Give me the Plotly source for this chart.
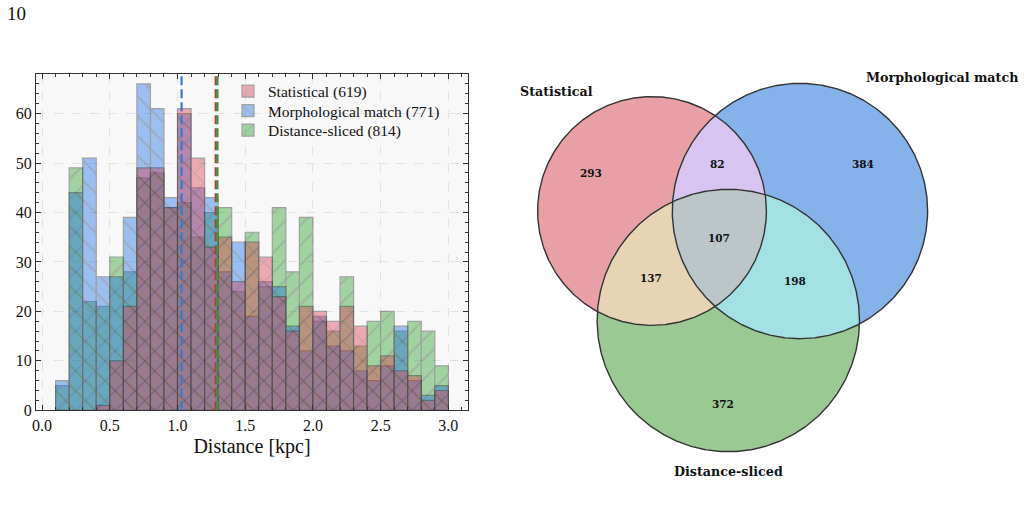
import numpy as np
import plotly.graph_objects as go

# ---------------- data ----------------
bin_left = [0.1, 0.2, 0.3, 0.4, 0.5, 0.6, 0.7, 0.8, 0.9, 1.0,
            1.1, 1.2, 1.3, 1.4, 1.5, 1.6, 1.7, 1.8, 1.9, 2.0,
            2.1, 2.2, 2.3, 2.4, 2.5, 2.6, 2.7, 2.8, 2.9]
bin_width = 0.1
statistical_counts = [0, 0, 0, 1, 10, 21, 49, 49, 41, 61,
                      51, 33, 35, 26, 34, 31, 23, 16, 21, 20,
                      18, 21, 17, 9, 11, 8, 7, 2, 4]
morph_counts = [6, 44, 51, 27, 27, 39, 66, 61, 43, 60,
                45, 43, 28, 34, 19, 26, 25, 17, 12, 19,
                13, 12, 8, 6, 9, 17, 6, 3, 5]
dist_counts = [5, 49, 22, 21, 31, 28, 47, 48, 41, 42,
               35, 40, 41, 24, 36, 25, 41, 28, 39, 18,
               16, 27, 13, 18, 20, 16, 18, 16, 9]
series_names = ["Statistical", "Morphological match", "Distance-sliced"]
median_kpc = [1.282, 1.03, 1.295]

venn_region_codes = ["100", "010", "001", "110", "101", "011", "111"]
venn_region_counts = [293, 384, 372, 82, 137, 198, 107]

# ---------------- style ----------------
bar_colors = ["#DC3C50", "#1E6EE6", "#28A028"]
line_colors = ["#C8323C", "#3A78D0", "#3C963C"]
patterns = ["x", "\\", "/"]
venn_colors = {"100": "#E8A0A6", "010": "#85B2E8", "001": "#9AC993",
               "110": "#D8C4F0", "101": "#E6D4B4", "011": "#A3E0E3",
               "111": "#BCC5C8"}
serif = "Liberation Serif"
vfont = "DejaVu Serif"
W, H = 1024, 528
legend_rows_px = [91.5, 111, 130.5]
legend_keys = ["legend", "legend2", "legend3"]

fig = go.Figure()

# ---------------- histogram ----------------
centers = [b + bin_width / 2 for b in bin_left]
counts = [statistical_counts, morph_counts, dist_counts]
draw_order = [2, 1, 0]
for i in draw_order:
    fig.add_trace(go.Bar(
        x=centers, y=counts[i], width=bin_width,
        name=f"{series_names[i]} ({sum(counts[i])})",
        legend=legend_keys[i],
        opacity=0.42,
        marker=dict(color=bar_colors[i],
                    line=dict(color="#2a2a2a", width=1.2),
                    pattern=dict(shape=patterns[i], fillmode="overlay",
                                 bgcolor=bar_colors[i], fgcolor="#1a1a1a",
                                 size=14, solidity=0.14)),
        xaxis="x", yaxis="y", hoverinfo="skip"))

shapes = [dict(type="rect", xref="x domain", yref="y domain", x0=0, x1=1, y0=0, y1=1,
               fillcolor="#f8f8f8", line=dict(width=0), layer="below")]
for idx in [1, 0, 2]:
    shapes.append(dict(type="line", xref="x", yref="y domain",
                       x0=median_kpc[idx], x1=median_kpc[idx], y0=0, y1=1,
                       line=dict(color=line_colors[idx], width=2.2, dash="9px,4px"),
                       layer="above"))

# ---------------- venn ----------------
totals = []
for k in range(3):
    totals.append(sum(c for code, c in zip(venn_region_codes, venn_region_counts)
                      if code[k] == "1"))
radii = [np.sqrt(t / np.pi) for t in totals]


def pair_overlap(a, b):
    return sum(c for code, c in zip(venn_region_codes, venn_region_counts)
               if code[a] == "1" and code[b] == "1")


def lens_area(r1, r2, d):
    if d >= r1 + r2:
        return 0.0
    if d <= abs(r1 - r2):
        return np.pi * min(r1, r2) ** 2
    a1 = r1 ** 2 * np.arccos((d * d + r1 * r1 - r2 * r2) / (2 * d * r1))
    a2 = r2 ** 2 * np.arccos((d * d + r2 * r2 - r1 * r1) / (2 * d * r2))
    a3 = 0.5 * np.sqrt((-d + r1 + r2) * (d + r1 - r2) * (d - r1 + r2) * (d + r1 + r2))
    return a1 + a2 - a3


def solve_d(r1, r2, area):
    lo, hi = abs(r1 - r2), r1 + r2
    for _ in range(200):
        mid = 0.5 * (lo + hi)
        if lens_area(r1, r2, mid) > area:
            lo = mid
        else:
            hi = mid
    return 0.5 * (lo + hi)


d01 = solve_d(radii[0], radii[1], pair_overlap(0, 1))
d02 = solve_d(radii[0], radii[2], pair_overlap(0, 2))
d12 = solve_d(radii[1], radii[2], pair_overlap(1, 2))
cx2 = (d02 ** 2 - d12 ** 2 + d01 ** 2) / (2 * d01)
cy2 = -np.sqrt(max(d02 ** 2 - cx2 ** 2, 0))
ccenters = [np.array([0.0, 0.0]), np.array([d01, 0.0]), np.array([cx2, cy2])]


def inside(p, k):
    return np.hypot(p[:, 0] - ccenters[k][0], p[:, 1] - ccenters[k][1]) < radii[k]


def region_polygon(code):
    N = 3600
    th = np.linspace(0, 2 * np.pi, N, endpoint=False)
    arcs = []
    outer_mid = None
    for k in range(3):
        pts = np.column_stack([ccenters[k][0] + radii[k] * np.cos(th),
                               ccenters[k][1] + radii[k] * np.sin(th)])
        mask = np.ones(N, bool)
        for j in range(3):
            if j == k:
                continue
            mask &= (inside(pts, j) == (code[j] == "1"))
        if not mask.any():
            continue
        if mask.all():
            runs = [np.arange(N)]
        else:
            start = np.argmin(mask)
            idx = (np.arange(N) + start) % N
            m = mask[idx]
            runs = []
            cur = []
            for ii, val in zip(idx, m):
                if val:
                    cur.append(ii)
                elif cur:
                    runs.append(np.array(cur))
                    cur = []
            if cur:
                runs.append(np.array(cur))
        for r in runs:
            seg = pts[r]
            if code[k] == "0":
                seg = seg[::-1]
            elif code.count("1") == 1:
                outer_mid = seg[len(seg) // 2]
            arcs.append(seg)
    poly = [arcs.pop(0)]
    while arcs:
        end = poly[-1][-1]
        dists = [np.hypot(*(a[0] - end)) for a in arcs]
        poly.append(arcs.pop(int(np.argmin(dists))))
    P = np.vstack(poly)
    return np.vstack([P, P[:1]]), outer_mid


def centroid(P):
    x, y = P[:-1, 0], P[:-1, 1]
    x1, y1 = P[1:, 0], P[1:, 1]
    cr = x * y1 - x1 * y
    A = cr.sum() / 2
    return np.array([np.sum((x + x1) * cr) / (6 * A), np.sum((y + y1) * cr) / (6 * A)])


label_pos = {}
for code in venn_region_codes:
    P, omid = region_polygon(code)
    c = centroid(P)
    if omid is not None:
        c = c + 0.35 * (omid - c)
    label_pos[code] = c
    fig.add_trace(go.Scatter(x=P[:, 0], y=P[:, 1], mode="lines", fill="toself",
                             fillcolor=venn_colors[code], line=dict(width=0),
                             xaxis="x2", yaxis="y2", showlegend=False,
                             hoverinfo="skip"))

tt = np.linspace(0, 2 * np.pi, 721)
for k in range(3):
    fig.add_trace(go.Scatter(x=ccenters[k][0] + radii[k] * np.cos(tt),
                             y=ccenters[k][1] + radii[k] * np.sin(tt),
                             mode="lines", line=dict(color="#333333", width=1.4),
                             xaxis="x2", yaxis="y2", showlegend=False,
                             hoverinfo="skip"))

annotations = []
for code, cnt in zip(venn_region_codes, venn_region_counts):
    x, y = label_pos[code]
    annotations.append(dict(x=x, y=y, xref="x2", yref="y2", text=f"<b>{cnt}</b>",
                            showarrow=False,
                            font=dict(family=vfont, size=10.5, color="#111111")))
annotations.append(dict(x=ccenters[0][0] - radii[0] / 2, y=ccenters[0][1] + radii[0],
                        xref="x2", yref="y2", text="<b>Statistical</b>",
                        xanchor="right", yanchor="bottom", yshift=-4, showarrow=False,
                        font=dict(family=vfont, size=12.7, color="#111111")))
annotations.append(dict(x=ccenters[1][0] + radii[1] / 2, y=ccenters[1][1] + radii[1],
                        xref="x2", yref="y2", text="<b>Morphological match</b>",
                        xanchor="left", yanchor="bottom", yshift=-4, showarrow=False,
                        font=dict(family=vfont, size=12.7, color="#111111")))
annotations.append(dict(x=ccenters[2][0], y=ccenters[2][1] - radii[2],
                        xref="x2", yref="y2", text="<b>Distance-sliced</b>",
                        xanchor="center", yanchor="top", yshift=-10, showarrow=False,
                        font=dict(family=vfont, size=12.7, color="#111111")))
annotations.append(dict(x=5 / W, y=1 - 14 / H, xref="paper", yref="paper", text="10",
                        xanchor="left", yanchor="middle", showarrow=False,
                        font=dict(family=serif, size=19, color="#111111")))

# venn axes scaling (px per unit)
s = 8.15
vx0_px = 500
sx_px, sy_px = 652, 211
x2min = -(sx_px - vx0_px) / s
y2min = -(H - sy_px) / s

legend_common = dict(xanchor="left", yanchor="middle", bgcolor="rgba(0,0,0,0)",
                     font=dict(family=serif, size=15.5, color="#111111"),
                     itemwidth=30, borderwidth=0)
legends = {}
for key, ypx in zip(legend_keys, legend_rows_px):
    legends[key] = dict(x=228 / W, y=1 - ypx / H, **legend_common)

axis_common = dict(ticks="inside", ticklen=5, tickcolor="#333333", showline=True,
                   linecolor="#333333", linewidth=1, mirror="allticks", showgrid=True,
                   gridcolor="#e2e2e2", griddash="dash", gridwidth=0.8, zeroline=False,
                   automargin=False,
                   tickfont=dict(family=serif, size=16, color="#111111"))

fig.update_layout(
    width=W, height=H, autosize=False,
    margin=dict(l=0, r=0, t=0, b=0, pad=0, autoexpand=False),
    paper_bgcolor="white", plot_bgcolor="rgba(0,0,0,0)",
    barmode="overlay",
    showlegend=True,
    shapes=shapes,
    annotations=annotations,
    xaxis=dict(domain=[36 / W, 468 / W], range=[-0.045, 3.145], anchor="y",
               tick0=0, dtick=0.5, tickformat=".1f",
               minor=dict(dtick=0.1, tick0=0, ticks="inside", ticklen=3,
                          tickcolor="#333333", showgrid=False),
               title=dict(text="Distance [kpc]", standoff=6,
                          font=dict(family=serif, size=20, color="#111111")),
               **axis_common),
    yaxis=dict(domain=[(H - 410.3) / H, (H - 74) / H], range=[0, 68], anchor="x",
               tick0=0, dtick=10,
               minor=dict(dtick=2, tick0=0, ticks="inside", ticklen=3,
                          tickcolor="#333333", showgrid=False),
               **axis_common),
    xaxis2=dict(domain=[vx0_px / W, 1], range=[x2min, x2min + (W - vx0_px) / s],
                anchor="y2", visible=False, fixedrange=True, automargin=False),
    yaxis2=dict(domain=[0, 1], range=[y2min, y2min + H / s],
                anchor="x2", visible=False, fixedrange=True, automargin=False),
    **legends,
)

fig.write_html("out.html")
